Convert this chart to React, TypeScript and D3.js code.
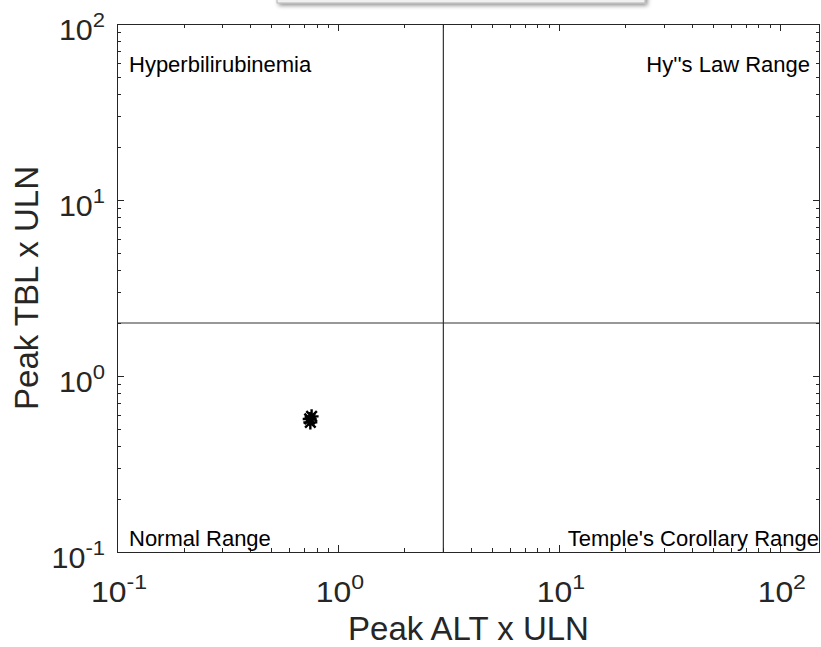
import React, { useEffect, useRef } from "react";
import * as d3 from "d3";

// Peak ALT / TBL (x ULN) for the subject group
const altPeak: number[] = [0.75, 0.76, 0.745];
const tblPeak: number[] = [0.545, 0.59, 0.57];

// Hy's law thresholds
const altThreshold = 3;
const tblThreshold = 2;

const xDomain: [number, number] = [0.1, 152];
const yDomain: [number, number] = [0.1, 100];
const xDecades: number[] = [-1, 0, 1, 2];
const yDecades: number[] = [-1, 0, 1, 2];

const quadrantLabels: { text: string; corner: string }[] = [
  { text: "Hyperbilirubinemia", corner: "tl" },
  { text: "Hy''s Law Range", corner: "tr" },
  { text: "Normal Range", corner: "bl" },
  { text: "Temple's Corollary Range", corner: "br" },
];

const W = 821;
const H = 647;
const M = { left: 117, right: 1, top: 24, bottom: 95 };

export default function App() {
  const ref = useRef<SVGSVGElement | null>(null);

  useEffect(() => {
    const svg = d3.select(ref.current);
    svg.selectAll("*").remove();

    const x = d3.scaleLog().domain(xDomain).range([M.left, W - M.right]);
    const y = d3.scaleLog().domain(yDomain).range([H - M.bottom, M.top]);
    const [x0, x1] = x.range();
    const [y0, y1] = [y.range()[1], y.range()[0]];

    const defs = svg.append("defs");
    const f = defs.append("filter").attr("id", "shadow").attr("x", "-10%").attr("y", "-50%").attr("width", "120%").attr("height", "300%");
    f.append("feDropShadow").attr("dx", 2).attr("dy", 2).attr("stdDeviation", 2).attr("flood-color", "#000").attr("flood-opacity", 0.45);

    // panel header strip
    svg.append("rect").attr("x", 277).attr("y", -12).attr("width", 368).attr("height", 15)
      .attr("fill", "#f0f0f0").attr("stroke", "#b4b4b4").attr("filter", "url(#shadow)");

    const axisColor = "#262626";

    // quadrant divider lines
    svg.append("line").attr("x1", x(altThreshold)).attr("x2", x(altThreshold)).attr("y1", y0).attr("y2", y1)
      .attr("stroke", "#333").attr("stroke-width", 1.2);
    svg.append("line").attr("x1", x0).attr("x2", x1).attr("y1", y(tblThreshold)).attr("y2", y(tblThreshold))
      .attr("stroke", "#333").attr("stroke-width", 1.2);

    // ticks (inward on all sides)
    const majorLen = 7, minorLen = 4;
    const xTicks = x.ticks().filter((t) => t >= xDomain[0] && t <= xDomain[1]);
    const yTicks = y.ticks().filter((t) => t >= yDomain[0] && t <= yDomain[1]);
    const isMajor = (t: number) => Math.abs(Math.log10(t) - Math.round(Math.log10(t))) < 1e-9;
    const tg = svg.append("g").attr("stroke", axisColor).attr("stroke-width", 1);
    xTicks.forEach((t) => {
      const L = isMajor(t) ? majorLen : minorLen;
      const px = Math.round(x(t)) + 0.5;
      tg.append("line").attr("x1", px).attr("x2", px).attr("y1", y1).attr("y2", y1 - L);
      tg.append("line").attr("x1", px).attr("x2", px).attr("y1", y0).attr("y2", y0 + L);
    });
    yTicks.forEach((t) => {
      const L = isMajor(t) ? majorLen : minorLen;
      const py = Math.round(y(t)) + 0.5;
      tg.append("line").attr("x1", x0).attr("x2", x0 + L).attr("y1", py).attr("y2", py);
      tg.append("line").attr("x1", x1).attr("x2", x1 - L).attr("y1", py).attr("y2", py);
    });

    // axes box
    svg.append("rect").attr("x", x0 + 0.5).attr("y", y0 + 0.5).attr("width", x1 - x0 - 1).attr("height", y1 - y0)
      .attr("fill", "none").attr("stroke", axisColor).attr("stroke-width", 1);

    // tick labels as powers of ten
    const font = "'Liberation Sans', Arial, sans-serif";
    const addPow = (g: d3.Selection<SVGTextElement, unknown, null, undefined>, e: number) => {
      g.append("tspan").text("10");
      g.append("tspan").attr("dy", -13).attr("font-size", 21).text(String(e));
    };
    xDecades.forEach((e) => {
      const t = svg.append("text")
        .attr("transform", `translate(${x(Math.pow(10, e)) + 2},602) scale(1.1,1)`)
        .attr("text-anchor", "middle").attr("font-family", font).attr("font-size", 29).attr("fill", axisColor);
      addPow(t, e);
    });
    yDecades.forEach((e) => {
      const t = svg.append("text")
        .attr("transform", `translate(105,${y(Math.pow(10, e)) + 16}) scale(1.05,1)`)
        .attr("text-anchor", "end").attr("font-family", font).attr("font-size", 29).attr("fill", axisColor);
      addPow(t, e);
    });

    // axis titles
    svg.append("text").attr("x", (x0 + x1) / 2).attr("y", 640).attr("text-anchor", "middle")
      .attr("font-family", font).attr("font-size", 33).attr("fill", axisColor).text("Peak ALT x ULN");
    svg.append("text").attr("transform", `translate(38,${(y0 + y1) / 2}) rotate(-90)`).attr("text-anchor", "middle")
      .attr("font-family", font).attr("font-size", 33).attr("fill", axisColor).text("Peak TBL x ULN");

    // quadrant captions
    quadrantLabels.forEach((q) => {
      const left = q.corner[1] === "l";
      const top = q.corner[0] === "t";
      svg.append("text")
        .attr("x", left ? x0 + 12 : x1 - (q.corner === "tr" ? 10 : 1))
        .attr("y", top ? 72 : y1 - 6)
        .attr("text-anchor", left ? "start" : "end")
        .attr("font-family", font).attr("font-size", 22).attr("fill", "#000").text(q.text);
    });

    // subject markers: '*' = plus + cross
    const s = 7;
    const mg = svg.append("g").attr("stroke", "#000").attr("stroke-width", 2.4).attr("fill", "none");
    altPeak.forEach((a, i) => {
      const cx = x(a), cy = y(tblPeak[i]);
      mg.append("path").attr("d",
        `M${cx - s},${cy}L${cx + s},${cy}M${cx},${cy - s}L${cx},${cy + s}` +
        `M${cx - s * 0.75},${cy - s * 0.75}L${cx + s * 0.75},${cy + s * 0.75}` +
        `M${cx - s * 0.75},${cy + s * 0.75}L${cx + s * 0.75},${cy - s * 0.75}`);
    });
  }, []);

  return (
    <svg ref={ref} width={W} height={H}
      style={{ position: "absolute", left: 0, top: 0, background: "#fff", display: "block" }} />
  );
}
